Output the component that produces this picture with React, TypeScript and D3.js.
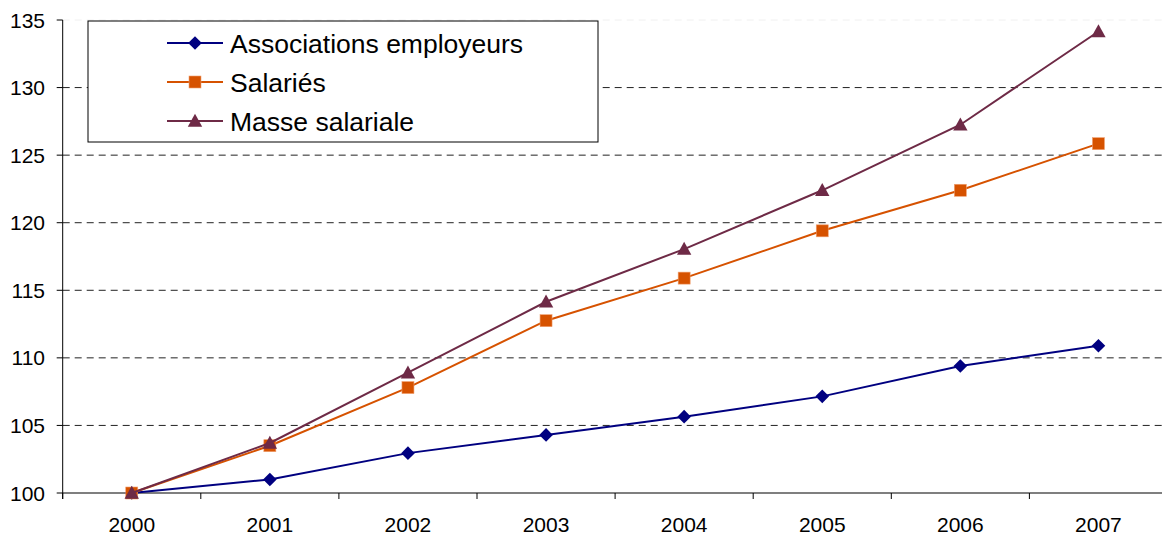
import React from "react";
import * as d3 from "d3";

const years = ["2000", "2001", "2002", "2003", "2004", "2005", "2006", "2007"];
const associations = [100, 101.0, 102.95, 104.3, 105.65, 107.15, 109.4, 110.9];
const salaries = [100, 103.5, 107.8, 112.75, 115.9, 119.4, 122.4, 125.85];
const masse = [100, 103.7, 108.9, 114.15, 118.05, 122.4, 127.25, 134.15];
const yTicks = [100, 105, 110, 115, 120, 125, 130, 135];

const seriesNames = ["Associations employeurs", "Salariés", "Masse salariale"];
const seriesColors = ["#000080", "#D65200", "#6E2A46"];
const seriesShapes = ["diamond", "square", "triangle"];
const seriesValues = [associations, salaries, masse];

const W = 1162;
const H = 538;
const FONT = "'Liberation Sans', Arial, sans-serif";

function Marker({ shape, x, y, color }: { shape: string; x: number; y: number; color: string }) {
  if (shape === "diamond") {
    const s = 6.8;
    return <path d={`M${x},${y - s}L${x + s},${y}L${x},${y + s}L${x - s},${y}Z`} fill={color} />;
  }
  if (shape === "square") {
    const s = 6;
    return <rect x={x - s} y={y - s} width={2 * s} height={2 * s} fill={color} stroke="#F0A070" strokeWidth={0.6} />;
  }
  const s = 7.2;
  return <path d={`M${x},${y - s}L${x + s},${y + 5.8}L${x - s},${y + 5.8}Z`} fill={color} />;
}

export default function App() {
  const x = d3.scaleBand<string>().domain(years).range([62.7, 1167.5]);
  const y = d3.scaleLinear().domain([100, 135]).range([493, 20]);
  const cx = (yr: string) => (x(yr) as number) + x.bandwidth() / 2;
  const line = d3
    .line<number>()
    .x((_, i) => cx(years[i]))
    .y((d) => y(d));

  const left = 62.7;
  const bottom = 493;

  return (
    <div style={{ position: "absolute", left: 0, top: 0 }}>
      <svg width={W} height={H} style={{ display: "block", background: "#fff" }}>
        {yTicks.slice(1).map((t) => (
          <line
            key={t}
            x1={left}
            x2={W}
            y1={y(t)}
            y2={y(t)}
            stroke={t === 135 ? "#f0f0f0" : "#222"}
            strokeWidth={1}
            strokeDasharray="7,5"
          />
        ))}
        <line x1={left} x2={left} y1={y(135)} y2={bottom + 6} stroke="#000" strokeWidth={1} />
        {yTicks.map((t) => (
          <g key={t}>
            <line x1={left - 6} x2={left} y1={y(t)} y2={y(t)} stroke="#000" strokeWidth={1} />
            <text
              x={45}
              y={y(t)}
              dy="0.36em"
              textAnchor="end"
              fontFamily={FONT}
              fontSize={21}
              fill="#000"
            >
              {t}
            </text>
          </g>
        ))}
        <line x1={left} x2={W} y1={bottom} y2={bottom} stroke="#000" strokeWidth={1.2} />
        {years.map((yr) => (
          <g key={yr}>
            <line
              x1={x(yr) as number}
              x2={x(yr) as number}
              y1={bottom}
              y2={bottom + 6}
              stroke="#000"
              strokeWidth={1}
            />
            <text
              x={cx(yr)}
              y={532}
              textAnchor="middle"
              fontFamily={FONT}
              fontSize={21}
              fill="#000"
            >
              {yr}
            </text>
          </g>
        ))}
        {seriesValues.map((vals, si) => (
          <g key={si}>
            <path d={line(vals) || ""} fill="none" stroke={seriesColors[si]} strokeWidth={2} />
            {vals.map((v, i) => (
              <Marker key={i} shape={seriesShapes[si]} x={cx(years[i])} y={y(v)} color={seriesColors[si]} />
            ))}
          </g>
        ))}
        <rect x={88} y={21} width={510} height={121} fill="#fff" stroke="#000" strokeWidth={1} />
        {seriesNames.map((name, si) => {
          const ly = 43 + si * 39;
          return (
            <g key={name}>
              <line x1={167} x2={223} y1={ly} y2={ly} stroke={seriesColors[si]} strokeWidth={2} />
              <Marker shape={seriesShapes[si]} x={195} y={ly} color={seriesColors[si]} />
              <text x={230} y={ly} dy="0.36em" fontFamily={FONT} fontSize={26.5} fill="#000">
                {name}
              </text>
            </g>
          );
        })}
      </svg>
    </div>
  );
}
